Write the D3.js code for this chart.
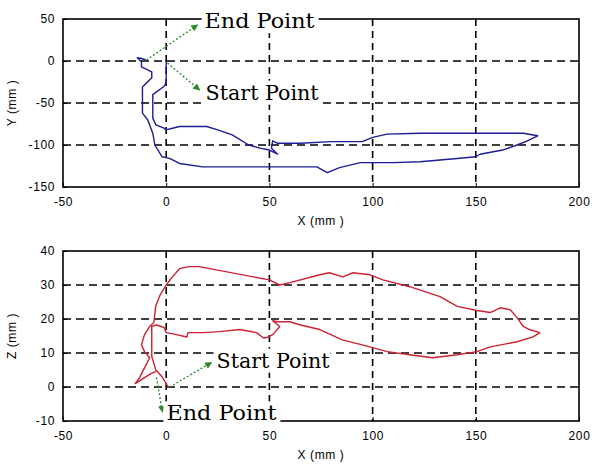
<!DOCTYPE html>
<html>
<head>
<meta charset="utf-8">
<script src="https://cdn.jsdelivr.net/npm/d3@7"></script>
<style>
  body { margin: 0; background: #fff; }
  svg { display: block; }
  .tick text { font-family: "Liberation Sans", Arial, sans-serif; font-size: 12px; letter-spacing: 0.6px; fill: #000; }
  .note { font-family: "DejaVu Serif", serif; font-size: 20px; }
</style>
</head>
<body>
<svg id="chart" width="594" height="466"></svg>
<script>
// shared x axis
var xTicks = [-50, 0, 50, 100, 150, 200];
var yTicks = [-150, -100, -50, 0, 50];
var zTicks = [-10, 0, 10, 20, 30, 40];

// top panel: X / Y trajectory (mm), from start (0,0) to end
var xyX = [0, 0, 0, -1, -6.5, -6.5, -6.5, -5, -1, 0, 3, 6.5, 19.6, 25, 32, 40, 46, 50, 54, 51, 51.6, 54, 65, 80, 95, 100, 107, 123, 150, 173,
  180, 175, 170, 163, 152, 150, 141, 123, 110, 100, 94, 84, 78, 73, 50, 17.6, 6.5, 1.6, -2, -5.5, -6.5, -9, -11.5, -11.5, -7, -7, -12, -12, -14, -12, -10];
var xyY = [0, -5, -26, -30, -40, -55, -68, -76, -80, -82, -80, -78, -78, -82, -88, -100, -104, -106, -111, -104, -95, -98, -98, -96, -96, -91, -87, -86, -86, -86,
  -89, -95, -100, -106, -111, -114, -116, -120, -121, -121, -121, -127, -133, -126, -126, -126, -122, -116, -114, -100, -86, -70, -62, -31, -20, -13, -7, -1, 4, 3, 1.5];

// bottom panel: X / Z trajectory (mm)
var xzX = [1, -2, -5, -7, -7, -7, -5, -1, 0, 5, 10, 10.5, 18, 25.9, 35.6, 43.7, 47, 48.7, 51.6, 55, 51.6, 54, 60, 64.6, 74.4, 85.6, 95, 107, 118, 129, 141, 150.6, 157, 170, 178,
  181, 176, 173, 170, 166.7, 161.8, 157, 150.6, 141, 132.7, 118, 105, 98.7, 90.5, 85.6, 79, 74.4, 60, 55, 50, 16, 11, 6.5, 3, 0, -3, -5, -6, -8, -10.5, -12, -10.5, -8, -9.7, -13, -15, -10, -6.5, -5];
var xzZ = [0, 3, 5, 9, 13, 17.8, 18.3, 17.5, 16, 15.4, 14.7, 16, 16, 16.3, 16.9, 16, 14.5, 14.5, 15.4, 17.8, 19.5, 19.2, 19.2, 18.3, 16.9, 13.8, 12.4, 10.4, 9.5, 8.6, 9.5, 10.4, 11.8, 13.3, 14.8,
  16, 16.9, 17.8, 20.4, 22.7, 23.3, 21.9, 22.5, 23.7, 26.6, 29.5, 31.5, 33, 33.6, 32.4, 33.6, 33, 30.7, 30, 31.5, 35.4, 35.4, 34.8, 32.4, 30, 27, 24, 19, 17.8, 15.4, 12.4, 10.4, 8.6, 6.6, 2.7, 1, 3, 4.2, 4.5];

// annotations: [label, arrow tail x, tail y, arrow tip x, tip y, text x, text baseline y]
var xyNotes = [
  ["End Point", -9.6, 1.2, 15.2, 42.9, 18.6, 39],
  ["Start Point", 0.6, -2.4, 16.2, -34.5, 19.1, -46]
];
var xzNotes = [
  ["Start Point", 1.6, 0, 22, 7.2, 24.4, 5.7],
  ["End Point", -4.7, 2.8, -1.8, -7.4, 0.1, -9.8]
];

var svg = d3.select("#chart");
var left = 63, right = 579;

var defs = svg.append("defs");
defs.append("marker")
  .attr("id", "garrow")
  .attr("viewBox", "0 0 10 10")
  .attr("refX", 9).attr("refY", 5)
  .attr("markerWidth", 7).attr("markerHeight", 7)
  .attr("markerUnits", "userSpaceOnUse")
  .attr("orient", "auto")
  .append("path").attr("d", "M0,0 L10,5 L0,10 z").attr("fill", "#2a8a2a");

function drawPanel(top, bottom, yDomain, ticks, xs, ys, color, notes, ylabel) {
  var x = d3.scaleLinear().domain([-50, 200]).range([left, right]);
  var y = d3.scaleLinear().domain(yDomain).range([bottom, top]);
  var g = svg.append("g");

  // dashed grid
  g.selectAll(".vgrid").data(xTicks.slice(1, -1)).enter().append("line")
    .attr("x1", d => x(d)).attr("x2", d => x(d))
    .attr("y1", top).attr("y2", bottom)
    .attr("stroke", "#000").attr("stroke-width", 1.6).attr("stroke-dasharray", "7,5");
  g.selectAll(".hgrid").data(ticks.slice(1, -1)).enter().append("line")
    .attr("x1", left).attr("x2", right)
    .attr("y1", d => y(d)).attr("y2", d => y(d))
    .attr("stroke", "#000").attr("stroke-width", 1.6).attr("stroke-dasharray", "8,5");

  // frame
  g.append("rect").attr("x", left).attr("y", top)
    .attr("width", right - left).attr("height", bottom - top)
    .attr("fill", "none").attr("stroke", "#000").attr("stroke-width", 1.6);

  // axes with inward ticks, plain hyphen minus
  var fmt = d => String(d);
  g.append("g").attr("transform", "translate(0," + bottom + ")")
    .call(d3.axisBottom(x).tickValues(xTicks).tickFormat(fmt).tickSizeInner(-4).tickSizeOuter(0).tickPadding(10))
    .call(a => a.select(".domain").remove());
  g.append("g").attr("transform", "translate(" + left + ",0)")
    .call(d3.axisLeft(y).tickValues(ticks).tickFormat(fmt).tickSizeInner(-4).tickSizeOuter(0).tickPadding(8))
    .call(a => a.select(".domain").remove());

  // trajectory
  var line = d3.line().x((d, i) => x(xs[i])).y((d, i) => y(ys[i]));
  g.append("path").datum(xs)
    .attr("d", line)
    .attr("fill", "none").attr("stroke", color).attr("stroke-width", 1.4)
    .attr("stroke-linejoin", "round");

  // annotations
  notes.forEach(function (n) {
    g.append("line")
      .attr("x1", x(n[1])).attr("y1", y(n[2]))
      .attr("x2", x(n[3])).attr("y2", y(n[4]))
      .attr("stroke", "#2a8a2a").attr("stroke-width", 1.3)
      .attr("stroke-dasharray", "2,2")
      .attr("marker-end", "url(#garrow)");
    var tx = x(n[5]), ty = y(n[6]);
    g.append("rect").attr("x", tx - 3).attr("y", ty - 19)
      .attr("width", 117).attr("height", 24).attr("fill", "#fff");
    g.append("text").attr("class", "note").attr("x", tx).attr("y", ty)
      .attr("textLength", n[0] == "End Point" ? 110 : 113)
      .attr("lengthAdjust", "spacingAndGlyphs")
      .text(n[0]);
  });

  // axis labels
  g.append("text").attr("x", (left + right) / 2).attr("y", bottom + 38)
    .attr("text-anchor", "middle")
    .attr("font-family", "'Liberation Sans', Arial, sans-serif").attr("font-size", 12)
    .attr("letter-spacing", 0.6)
    .text("X (mm )");
  g.append("text")
    .attr("transform", "translate(16," + (top + bottom) / 2 + ") rotate(-90)")
    .attr("text-anchor", "middle")
    .attr("font-family", "'Liberation Sans', Arial, sans-serif").attr("font-size", 12)
    .attr("letter-spacing", 0.6)
    .text(ylabel + " (mm )");
}

drawPanel(19, 187, [-150, 50], yTicks, xyX, xyY, "#1c1c96", xyNotes, "Y");
drawPanel(251, 421, [-10, 40], zTicks, xzX, xzZ, "#cc2233", xzNotes, "Z");
</script>
</body>
</html>
